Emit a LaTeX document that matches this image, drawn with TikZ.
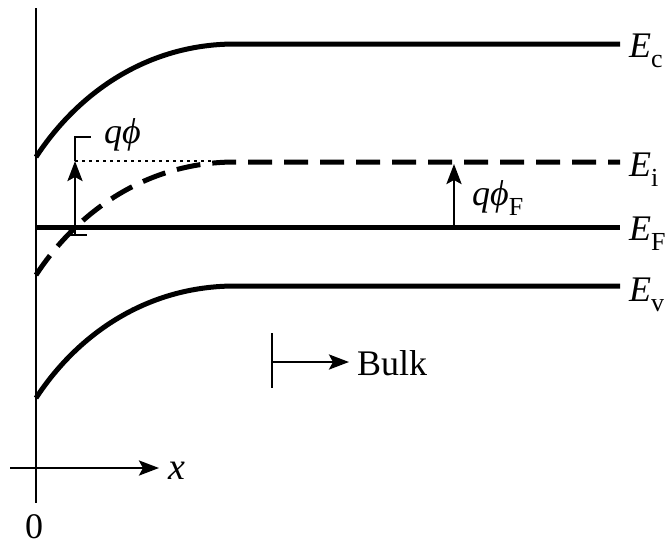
\documentclass[tikz,border=0pt]{standalone}
\usepackage{fontspec}
\setmainfont{Liberation Serif}
\usetikzlibrary{arrows.meta,positioning,calc}
\newcommand\lowsub[1]{\raisebox{-0.3em}{\fontsize{26}{30}\selectfont #1}}

\begin{document}
\begin{tikzpicture}[x=1pt,y=-1pt,
  band/.style={line width=5pt},
  thinline/.style={line width=2.8pt},
  arr/.style={line width=2.8pt,-{Stealth[length=20pt,width=15pt,inset=4pt]}},
  lbl/.style={font=\fontsize{36}{40}\selectfont,inner sep=0pt}]
\useasboundingbox (0,0) rectangle (671,547);
% axes
\coordinate (ytop) at (36,8);
\coordinate (ybot) at (36,503);
\coordinate (xleft) at (10,468);
\coordinate (xright) at (159,468);
\draw[thinline] (ytop) -- (ybot);
\draw[arr] (xleft) -- (xright);
\node[lbl,font=\fontsize{38}{44}\selectfont\itshape,anchor=base west] (xlab) at (168,479) {x};
\node[lbl,anchor=base] (zero) at (34,538) {0};

% band edges
\coordinate (Ecstart) at (36,157);
\coordinate (Ecend) at (620,44);
\coordinate (Eistart) at (36,275);
\coordinate (Eiend) at (620,162);
\coordinate (EFstart) at (36,227);
\coordinate (EFend) at (620,227);
\coordinate (Evstart) at (36,398);
\coordinate (Evend) at (620,286);
\draw[band] (Ecstart) .. controls (80,90) and (150,44) .. (235,44) -- (Ecend);
\draw[band,dash pattern=on 24pt off 12pt] (Eistart) .. controls (80,208) and (150,162) .. (235,162) -- (Eiend);
\draw[band] (EFstart) -- (EFend);
\draw[band] (Evstart) .. controls (80,331) and (150,286) .. (235,286) -- (Evend);
\node[lbl,anchor=base west] (Ec) at (629,57) {\textit{E}\lowsub{c}};
\node[lbl,anchor=base west] (Ei) at (629,176) {\textit{E}\lowsub{i}};
\node[lbl,anchor=base west] (EF) at (629,240) {\textit{E}\lowsub{F}};
\node[lbl,anchor=base west] (Ev) at (629,301) {\textit{E}\lowsub{v}};

% surface potential
\coordinate (qbot) at (75,235);
\coordinate (qtip) at (75,161);
\coordinate (qtop) at (75,137);
\coordinate (dotend) at (214,161);
\draw[line width=2.5pt,dash pattern=on 2.5pt off 4.5pt] (qtip) -- (dotend);
\draw[thinline] ($(qbot)+(-7,0)$) -- ($(qbot)+(12,0)$);
\draw[arr] (qbot) -- (qtip);
\draw[thinline] (qtip) -- (qtop) -- ++(16,0);
\node[lbl,anchor=base west] (qphi) at (104,143) {\textit{qϕ}};

% bulk potential
\coordinate (qFbot) at (454,227);
\coordinate (qFtip) at (454,164);
\draw[arr] (qFbot) -- (qFtip);
\node[lbl,anchor=base west] (qphiF) at (472,205) {\textit{qϕ}\lowsub{F}};

% bulk marker
\coordinate (bulktop) at (272,333);
\coordinate (bulkbot) at (272,388);
\coordinate (bulkmid) at (272,362);
\draw[thinline] (bulktop) -- (bulkbot);
\node[lbl,anchor=base west] (bulk) at (357,375) {Bulk};
\draw[arr] (bulkmid) -- ($(bulk.west |- bulkmid)+(-8,0)$);
\end{tikzpicture}
\end{document}
